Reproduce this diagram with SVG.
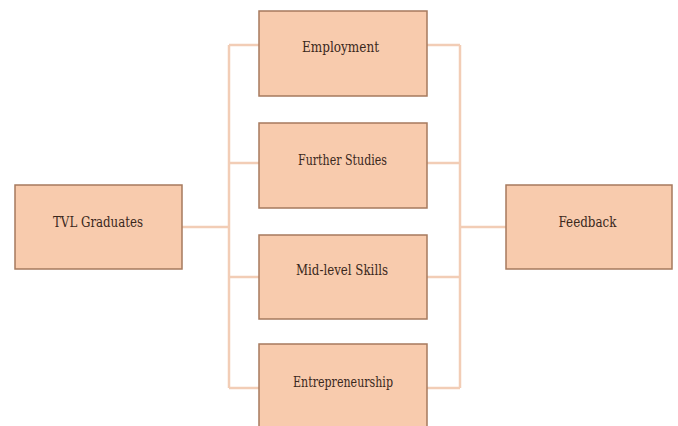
<svg xmlns="http://www.w3.org/2000/svg" width="678" height="426" viewBox="0 0 678 426">
  <style>
    .box { fill: #F8CBAD; stroke: #A67A5E; stroke-width: 1.5; }
    .lbl { font-family: "DejaVu Serif", "Liberation Serif", serif; font-size: 14px; fill: #3A281C; text-anchor: middle; }
    .wire { fill: none; stroke: #F2CDB6; stroke-width: 2.5; }
  </style>
  <rect width="678" height="426" fill="#FFFFFF"/>

  <g id="connectors">
    <!-- source to left bus -->
    <line class="wire" x1="182" y1="227" x2="229" y2="227"/>
    <!-- left bus -->
    <line class="wire" x1="229" y1="45" x2="229" y2="388"/>
    <line class="wire" x1="229" y1="45" x2="259" y2="45"/>
    <line class="wire" x1="229" y1="163" x2="259" y2="163"/>
    <line class="wire" x1="229" y1="277" x2="259" y2="277"/>
    <line class="wire" x1="229" y1="388" x2="259" y2="388"/>
    <!-- right bus -->
    <line class="wire" x1="460" y1="45" x2="460" y2="388"/>
    <line class="wire" x1="427" y1="45" x2="460" y2="45"/>
    <line class="wire" x1="427" y1="163" x2="460" y2="163"/>
    <line class="wire" x1="427" y1="277" x2="460" y2="277"/>
    <line class="wire" x1="427" y1="388" x2="460" y2="388"/>
    <!-- right bus to feedback -->
    <line class="wire" x1="460" y1="227" x2="506" y2="227"/>
  </g>

  <g id="tvl-graduates">
    <rect class="box" x="15" y="185" width="167" height="84"/>
    <text class="lbl" x="98" y="227" textLength="90" lengthAdjust="spacingAndGlyphs">TVL Graduates</text>
  </g>

  <g id="employment">
    <rect class="box" x="259" y="11" width="168" height="85"/>
    <text class="lbl" x="340.5" y="52" textLength="77" lengthAdjust="spacingAndGlyphs">Employment</text>
  </g>

  <g id="further-studies">
    <rect class="box" x="259" y="123" width="168" height="85"/>
    <text class="lbl" x="342.5" y="165" textLength="89" lengthAdjust="spacingAndGlyphs">Further Studies</text>
  </g>

  <g id="mid-level-skills">
    <rect class="box" x="259" y="235" width="168" height="84"/>
    <text class="lbl" x="342" y="275" textLength="92" lengthAdjust="spacingAndGlyphs">Mid-level Skills</text>
  </g>

  <g id="entrepreneurship">
    <rect class="box" x="259" y="344" width="168" height="90"/>
    <text class="lbl" x="343" y="387" textLength="100" lengthAdjust="spacingAndGlyphs">Entrepreneurship</text>
  </g>

  <g id="feedback">
    <rect class="box" x="506" y="185" width="166" height="84"/>
    <text class="lbl" x="587.5" y="227" textLength="58" lengthAdjust="spacingAndGlyphs">Feedback</text>
  </g>
</svg>
